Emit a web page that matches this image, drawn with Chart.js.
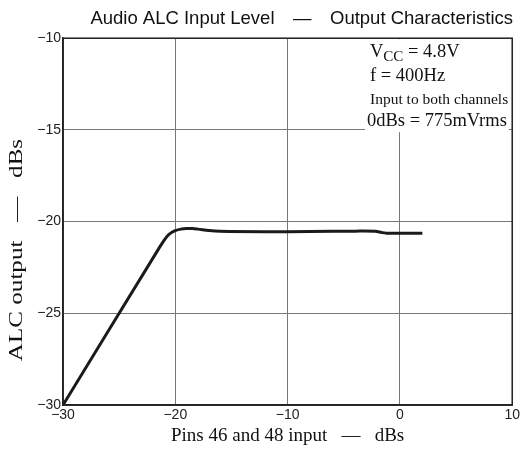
<!DOCTYPE html>
<html>
<head>
<meta charset="utf-8">
<script src="https://cdn.jsdelivr.net/npm/chart.js@4"></script>
<style>
  html, body { margin: 0; padding: 0; background: #fff; }
  #wrap { width: 522px; height: 450px; }
</style>
</head>
<body>
<div id="wrap"><canvas id="alcChart"></canvas></div>
<script>
// Curve: input (dBs) vs ALC output (dBs)
const inputLevels = [-30, -21.5, -21, -20.6, -20.3, -20, -19.5, -19, -18.5, -18, -17, -16, -12, -8, -4, -2.2, -1.6, -1.2, 0, 2];
const outputLevels = [-30, -21.5, -21.02, -20.72, -20.58, -20.49, -20.41, -20.38, -20.38, -20.41, -20.49, -20.53, -20.55, -20.54, -20.52, -20.53, -20.6, -20.63, -20.64, -20.64];

const xTicks = [-30, -20, -10, 0, 10];
const yTicks = [-30, -25, -20, -15, -10];

const titleText = 'Audio ALC Input Level\u2003\u2014\u2003Output Characteristics';
const xTitle = 'Pins 46 and 48 input   \u2014   dBs';
const yTitle = 'ALC output   \u2014   dBs';
const noteLines = ['f = 400Hz', 'Input to both channels', '0dBs = 775mVrms'];

const minus = v => (v < 0 ? '\u2212' + Math.abs(v) : String(v));

// caixa de condições + moldura do gráfico
const frameAndNote = {
    id: 'frameAndNote',
    beforeDatasetsDraw(chart) {
        const { ctx, chartArea: a } = chart;
        ctx.save();
        ctx.fillStyle = '#fff';
        ctx.fillRect(365, a.top + 1, 144, 93);
        ctx.fillStyle = '#111';
        ctx.textBaseline = 'alphabetic';
        ctx.font = '18.5px "Liberation Serif"';
        ctx.fillText('V', 370, 57);
        let w = ctx.measureText('V').width;
        ctx.font = '15px "Liberation Serif"';
        ctx.fillText('CC', 370 + w, 61);
        w += ctx.measureText('CC').width;
        ctx.font = '18.5px "Liberation Serif"';
        ctx.fillText(' = 4.8V', 370 + w, 57);
        ctx.fillText(noteLines[0], 370, 81);
        ctx.font = '15.5px "Liberation Serif"';
        ctx.fillText(noteLines[1], 370, 104);
        ctx.font = '18.5px "Liberation Serif"';
        ctx.fillText(noteLines[2], 367, 126);
        ctx.restore();
    },
    afterDraw(chart) {
        const { ctx, chartArea: a } = chart;
        ctx.save();
        ctx.strokeStyle = '#222';
        ctx.lineWidth = 1.5;
        ctx.strokeRect(a.left, a.top, a.right - a.left, a.bottom - a.top);
        // título do eixo Y (esticado, como no original)
        ctx.translate(17, 250);
        ctx.rotate(-Math.PI / 2);
        ctx.scale(1.32, 1);
        ctx.font = '19px "Liberation Serif"';
        ctx.fillStyle = '#111';
        ctx.textAlign = 'center';
        ctx.textBaseline = 'middle';
        ctx.fillText(yTitle, 0, 0);
        ctx.restore();
    }
};

new Chart(document.getElementById('alcChart'), {
    type: 'line',
    data: {
        datasets: [{
            data: inputLevels.map((x, i) => ({ x, y: outputLevels[i] })),
            borderColor: '#1a1a1a',
            borderWidth: 3,
            pointRadius: 0,
            tension: 0.35,
            fill: false
        }]
    },
    options: {
        responsive: true,
        maintainAspectRatio: false,
        animation: false,
        layout: { padding: { top: 0, right: 9, bottom: 0, left: 0 } },
        plugins: {
            legend: { display: false },
            tooltip: { enabled: false },
            title: {
                display: true,
                text: titleText,
                align: 'end',
                color: '#111',
                font: { family: '"Liberation Sans", Arial, sans-serif', size: 18.5, weight: 'normal' },
                padding: { top: 8, bottom: 8 }
            }
        },
        scales: {
            x: {
                type: 'linear',
                min: -30,
                max: 10,
                afterBuildTicks: s => { s.ticks = xTicks.map(v => ({ value: v })); },
                afterFit: s => { s.height = 45; },
                grid: { color: '#777', lineWidth: 1, drawTicks: false },
                border: { color: '#222', width: 1.5 },
                ticks: {
                    padding: 2,
                    color: '#222',
                    font: { family: '"Liberation Sans", Arial, sans-serif', size: 14 },
                    callback: minus
                },
                title: {
                    display: true,
                    text: xTitle,
                    color: '#111',
                    font: { family: '"Liberation Serif", serif', size: 19 },
                    padding: { top: 0, bottom: 3 }
                }
            },
            y: {
                type: 'linear',
                min: -30,
                max: -10,
                afterBuildTicks: s => { s.ticks = yTicks.map(v => ({ value: v })); },
                afterFit: s => { s.width = 63; },
                grid: { color: '#777', lineWidth: 1, drawTicks: false },
                border: { color: '#222', width: 1.5 },
                ticks: {
                    padding: 2,
                    color: '#222',
                    font: { family: '"Liberation Sans", Arial, sans-serif', size: 14 },
                    callback: minus
                }
            }
        }
    },
    plugins: [frameAndNote]
});
</script>
</body>
</html>
